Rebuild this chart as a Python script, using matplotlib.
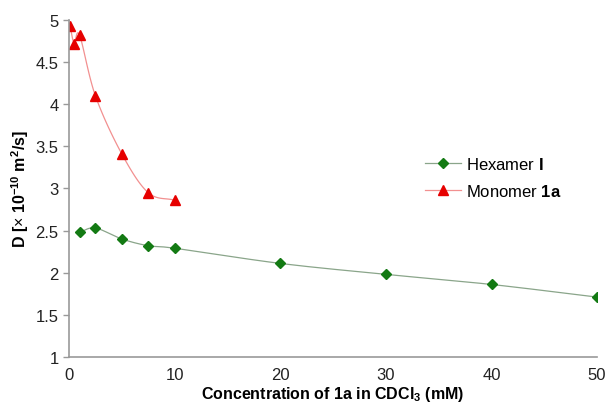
import numpy as np
import matplotlib.pyplot as plt

plt.rcParams['font.family'] = ['Liberation Sans', 'DejaVu Sans']
plt.rcParams['mathtext.fontset'] = 'custom'
plt.rcParams['mathtext.rm'] = 'Liberation Sans'
plt.rcParams['mathtext.bf'] = 'Liberation Sans:bold'

# diffusion coefficients, D in 1e-10 m^2/s
hex_conc = [1, 2.5, 5, 7.5, 10, 20, 30, 40, 50]
hex_d = [2.48, 2.53, 2.40, 2.32, 2.29, 2.11, 1.98, 1.86, 1.71]

mono_conc = [0.1, 0.5, 1, 2.5, 5, 7.5, 10]
mono_d = [4.93, 4.72, 4.82, 4.10, 3.41, 2.95, 2.86]


def smooth(x, y, n=20):
    # catmull-rom curve through the points (like excel smoothed lines)
    x = np.asarray(x, float)
    y = np.asarray(y, float)
    px = np.concatenate([[2 * x[0] - x[1]], x, [2 * x[-1] - x[-2]]])
    py = np.concatenate([[2 * y[0] - y[1]], y, [2 * y[-1] - y[-2]]])
    xs, ys = [], []
    t = np.linspace(0, 1, n)
    for i in range(1, len(px) - 2):
        for p, out in ((px, xs), (py, ys)):
            p0, p1, p2, p3 = p[i - 1], p[i], p[i + 1], p[i + 2]
            out.extend(0.5 * (2 * p1 + (-p0 + p2) * t
                              + (2 * p0 - 5 * p1 + 4 * p2 - p3) * t ** 2
                              + (-p0 + 3 * p1 - 3 * p2 + p3) * t ** 3))
    return xs, ys


fig = plt.figure(figsize=(6.05, 4.1), dpi=100)
ax = fig.add_axes([0.114, 0.127, 0.873, 0.822])

hx, hy = smooth(hex_conc, hex_d)
ax.plot(hx, hy, color='#8aa58a', lw=0.9)
ax.plot(hex_conc, hex_d, ls='none', marker='D', ms=5, color='#137a13')

mx, my = smooth(mono_conc, mono_d)
ax.plot(mx, my, color='#f29090', lw=0.9)
ax.plot(mono_conc, mono_d, ls='none', marker='^', ms=7, color='#e60000')

# legend entries: line with marker in the middle
ax.plot([], [], color='#8aa58a', lw=0.9, marker='D', ms=5, mfc='#137a13', mec='#137a13',
        label=r'Hexamer $\mathbf{I}$')
ax.plot([], [], color='#f29090', lw=0.9, marker='^', ms=7, mfc='#e60000', mec='#e60000',
        label=r'Monomer $\mathbf{1a}$')
ax.legend(loc='upper left', bbox_to_anchor=(0.645, 0.64), frameon=False, fontsize=12,
          labelspacing=0.62, handlelength=2.2, handletextpad=0.3)

ax.set_xlim(0, 50)
ax.set_ylim(1, 5)
ax.set_xticks([0, 10, 20, 30, 40, 50])
ax.set_yticks([1, 1.5, 2, 2.5, 3, 3.5, 4, 4.5, 5])
ax.set_yticklabels(['1', '1.5', '2', '2.5', '3', '3.5', '4', '4.5', '5'])
ax.tick_params(axis='x', length=0, pad=7, labelsize=12, colors='#222222')
ax.tick_params(axis='y', length=4, width=1, color='#999999', labelsize=12, labelcolor='#222222')
for s in ['top', 'right']:
    ax.spines[s].set_visible(False)
for s in ['left', 'bottom']:
    ax.spines[s].set_color('#999999')
    ax.spines[s].set_linewidth(1.2)

ax.set_xlabel(r'Concentration of 1a in CDCl$_\mathbf{3}$ (mM)', fontsize=11.5, fontweight='bold',
              labelpad=2)
ax.set_ylabel(r'D [$\times$ 10$^\mathbf{-10}$ m$^\mathbf{2}$/s]', fontsize=11.5, fontweight='bold',
              labelpad=3)

fig.savefig('out.png', dpi=100)
